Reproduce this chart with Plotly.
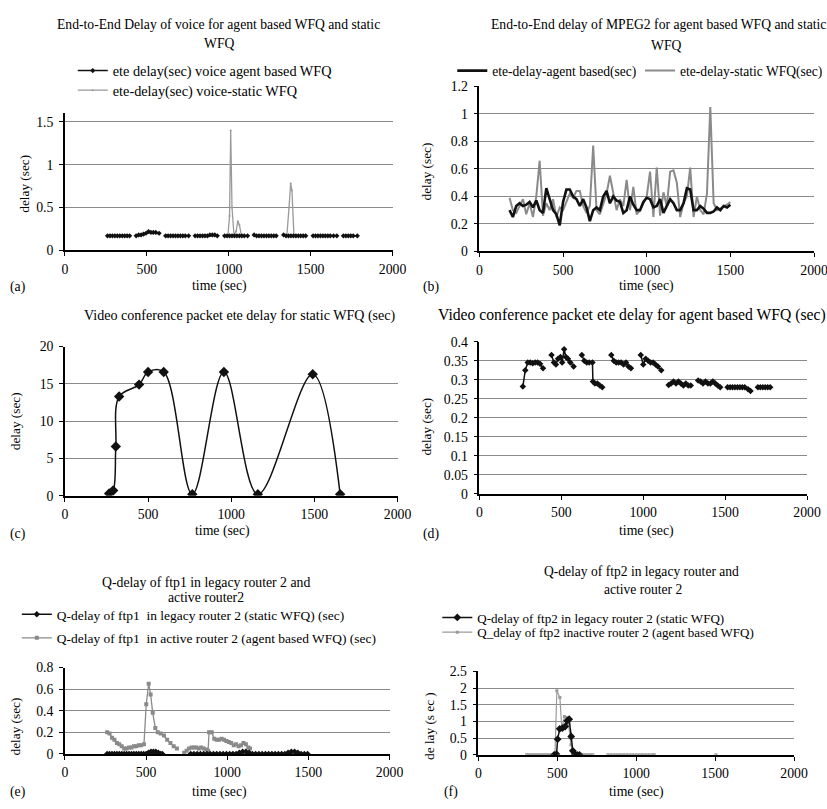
import plotly.graph_objects as go

# The capture is ~843px wide and is resized to 827px: lay the figure out on 843px
# and remove the body margin.
TARGET_W, TARGET_H = 827, 809
W, H = 843, 809
SX = W / TARGET_W
FONT = "Liberation Serif"
FS = 1.02  # compensate for horizontal squeeze


def fx(px):
    return px / TARGET_W


def fy(py):
    return 1 - py / TARGET_H


# ---------------- DATA ----------------
# (a) voice end-to-end delay
a_time_agent = [260, 275, 290, 305, 320, 335, 350, 365, 380, 395, None,
                435, 450, 465, 480, 495, 510, 525, 540, 555, 575, None,
                615, 630, 645, 660, 675, 690, 705, 720, 735, 755, None,
                795, 810, 825, 840, 855, 870, 885, 900, 915, 930, None,
                975, 990, 1005, 1020, 1035, 1050, 1065, 1080, 1095, 1115, None,
                1155, 1170, 1185, 1200, 1215, 1230, 1245, 1260, 1275, 1290, None,
                1335, 1350, 1365, 1380, 1395, 1410, 1425, 1440, 1455, 1470, None,
                1515, 1530, 1545, 1560, 1575, 1590, 1605, 1620, 1640, 1660, None,
                1700, 1715, 1730, 1745, 1760, 1785]
a_delay_agent = [0.17, 0.17, 0.17, 0.17, 0.17, 0.17, 0.17, 0.17, 0.17, 0.17, None,
                 0.17, 0.18, 0.18, 0.19, 0.20, 0.22, 0.21, 0.21, 0.21, 0.20, None,
                 0.17, 0.17, 0.17, 0.17, 0.17, 0.17, 0.17, 0.17, 0.17, 0.17, None,
                 0.17, 0.17, 0.17, 0.17, 0.17, 0.17, 0.18, 0.18, 0.18, 0.17, None,
                 0.17, 0.17, 0.17, 0.17, 0.17, 0.17, 0.17, 0.17, 0.17, 0.17, None,
                 0.18, 0.17, 0.17, 0.17, 0.17, 0.17, 0.17, 0.17, 0.17, 0.17, None,
                 0.18, 0.17, 0.17, 0.17, 0.17, 0.17, 0.17, 0.17, 0.17, 0.17, None,
                 0.17, 0.17, 0.17, 0.17, 0.17, 0.17, 0.17, 0.17, 0.17, 0.17, None,
                 0.17, 0.17, 0.17, 0.17, 0.17, 0.17]
a_time_static = [260, 280, 300, 320, 340, 360, 380, 395, None,
                 435, 455, 475, 495, 515, 535, 555, 575, None,
                 615, 635, 655, 675, 695, 715, 735, 755, None,
                 795, 815, 835, 855, 875, 895, 915, 930, None,
                 975, 995, 1005, 1012, 1020, 1032, 1045, 1055, 1065, 1078, 1095, 1115, None,
                 1155, 1175, 1195, 1215, 1235, 1255, 1275, 1290, None,
                 1335, 1355, 1368, 1378, 1386, 1398, 1415, 1435, 1455, 1470, None,
                 1515, 1535, 1555, 1575, 1595, 1615, 1635, 1660, None,
                 1700, 1720, 1740, 1760, 1785]
a_delay_static = [0.17, 0.17, 0.17, 0.17, 0.17, 0.17, 0.17, 0.17, None,
                  0.17, 0.17, 0.18, 0.19, 0.21, 0.20, 0.20, 0.19, None,
                  0.17, 0.17, 0.17, 0.17, 0.17, 0.17, 0.17, 0.17, None,
                  0.17, 0.17, 0.17, 0.17, 0.17, 0.17, 0.17, 0.17, None,
                  0.17, 0.17, 0.40, 1.40, 0.50, 0.18, 0.22, 0.34, 0.30, 0.17, 0.17, 0.17, None,
                  0.17, 0.17, 0.17, 0.17, 0.17, 0.17, 0.17, 0.17, None,
                  0.17, 0.17, 0.50, 0.78, 0.70, 0.18, 0.17, 0.17, 0.17, 0.17, None,
                  0.17, 0.17, 0.17, 0.17, 0.17, 0.17, 0.17, 0.17, None,
                  0.17, 0.17, 0.17, 0.17, 0.17]

# (b) MPEG2 end-to-end delay
b_time = [180, 200, 220, 240, 260, 280, 300, 320, 340, 360, 380, 400, 420, 440, 460,
          480, 500, 520, 540, 560, 580, 600, 620, 640, 660, 680, 700, 720, 740, 760,
          780, 800, 820, 840, 860, 880, 900, 920, 940, 960, 980, 1000, 1020, 1040,
          1060, 1080, 1100, 1120, 1140, 1160, 1180, 1200, 1220, 1240, 1260, 1280,
          1300, 1320, 1340, 1360, 1380, 1400, 1420, 1440, 1460, 1480, 1500]
b_delay_agent = [0.30, 0.25, 0.33, 0.35, 0.33, 0.34, 0.36, 0.32, 0.37, 0.30, 0.28, 0.46,
                 0.38, 0.30, 0.27, 0.19, 0.36, 0.45, 0.45, 0.40, 0.38, 0.33, 0.38, 0.32,
                 0.22, 0.30, 0.32, 0.30, 0.40, 0.44, 0.35, 0.40, 0.37, 0.36, 0.28, 0.30,
                 0.40, 0.34, 0.30, 0.30, 0.36, 0.39, 0.38, 0.32, 0.33, 0.38, 0.28, 0.33,
                 0.38, 0.35, 0.30, 0.30, 0.35, 0.46, 0.45, 0.30, 0.30, 0.33, 0.31, 0.28,
                 0.28, 0.29, 0.32, 0.30, 0.33, 0.32, 0.34]
b_delay_static = [0.39, 0.30, 0.28, 0.33, 0.38, 0.27, 0.35, 0.25, 0.40, 0.66, 0.26, 0.35,
                  0.30, 0.38, 0.25, 0.32, 0.30, 0.36, 0.42, 0.39, 0.44, 0.44, 0.33, 0.28,
                  0.33, 0.77, 0.30, 0.27, 0.35, 0.42, 0.55, 0.42, 0.30, 0.38, 0.33, 0.52,
                  0.30, 0.47, 0.27, 0.30, 0.35, 0.40, 0.58, 0.25, 0.61, 0.26, 0.43, 0.33,
                  0.58, 0.59, 0.50, 0.25, 0.35, 0.40, 0.61, 0.25, 0.40, 0.30, 0.27, 0.42,
                  1.05, 0.35, 0.30, 0.31, 0.33, 0.34, 0.36]

# (c) video conference, static WFQ
c_time = [266, 290, 306, 326, 446, 500, 594, 766, 956, 1160, 1490, 1655]
c_delay = [0.3, 0.7, 6.6, 13.3, 14.9, 16.6, 16.6, 0.2, 16.6, 0.2, 16.3, 0.2]

# (d) video conference, agent based WFQ
d_time = [265, 280, 295, 310, 325, 340, 355, 370, 388, None,
          440, 455, 467, 480, 495, 505, 517, 528, 540, 555, 575, None,
          625, 640, 655, 670, 690, 693, 705, 720, 735, 750, None,
          805, 820, 835, 850, 865, 880, 895, 910, 925, None,
          985, 1000, 1015, 1030, 1045, 1060, 1075, 1090, 1110, None,
          1155, 1170, 1185, 1200, 1215, 1230, 1245, 1260, 1275, 1290, None,
          1335, 1350, 1365, 1380, 1395, 1410, 1425, 1440, 1455, 1470, None,
          1515, 1530, 1545, 1560, 1575, 1590, 1605, 1620, 1640, 1655, None,
          1700, 1715, 1730, 1745, 1760, 1775]
d_delay = [0.282, 0.325, 0.345, 0.345, 0.343, 0.345, 0.345, 0.342, 0.330, None,
           0.365, 0.345, 0.340, 0.355, 0.360, 0.345, 0.380, 0.360, 0.355, 0.345, 0.335, None,
           0.365, 0.350, 0.345, 0.345, 0.345, 0.295, 0.290, 0.290, 0.285, 0.280, None,
           0.365, 0.350, 0.345, 0.345, 0.345, 0.340, 0.345, 0.335, 0.330, None,
           0.365, 0.340, 0.355, 0.350, 0.345, 0.345, 0.340, 0.335, 0.325, None,
           0.286, 0.290, 0.295, 0.290, 0.295, 0.290, 0.285, 0.290, 0.285, 0.285, None,
           0.298, 0.295, 0.290, 0.295, 0.290, 0.290, 0.295, 0.290, 0.285, 0.280, None,
           0.280, 0.280, 0.280, 0.280, 0.280, 0.280, 0.280, 0.280, 0.275, 0.270, None,
           0.280, 0.280, 0.280, 0.280, 0.280, 0.280]

# (e) Q-delay of ftp1
e_time_legacy = [260, 275, 290, 305, 320, 335, 350, 365, 380, 395, 410, 425, 440, 455,
                 470, 485, 500, 515, 530, 545, 560, 575, 590, 600, None,
                 775, 795, 815, 835, 855, 875, 895, 915, 935, 955, 975, 995, 1015,
                 1035, 1055, 1075, 1095, 1115, 1135, 1155, 1175, 1195, 1215, 1235,
                 1255, 1275, 1295, 1315, 1335, 1355, 1375, 1395, 1415, 1435, 1455,
                 1475, 1495]
e_delay_legacy = [0, 0, 0, 0, 0, 0, 0, 0, 0, 0, 0, 0, 0, 0,
                  0, 0, 0, 0.01, 0.02, 0.02, 0.02, 0.01, 0, 0, None,
                  0, 0, 0, 0, 0, 0, 0, 0, 0, 0, 0, 0, 0,
                  0, 0, 0.01, 0.02, 0.02, 0.01, 0, 0, 0, 0, 0,
                  0, 0, 0, 0, 0, 0, 0.01, 0.02, 0.02, 0.01, 0,
                  0, 0]
e_time_active = [260, 275, 290, 305, 320, 335, 350, 365, 380, 395, 410, 425, 440, 455,
                 470, 487, 501, 516, 528, 541, 557, 572, 590, 610, 630, 650, 670, 690, None,
                 735, 750, 765, 780, 795, 810, 825, 840, 855, 870, 882, 888, 905, 920,
                 935, 950, 965, 980, 995, 1010, 1025, 1040, 1055, 1070, 1085, 1100,
                 1115, 1130, 1140]
e_delay_active = [0.20, 0.19, 0.15, 0.13, 0.10, 0.09, 0.07, 0.05, 0.05, 0.06, 0.06, 0.07,
                  0.07, 0.08, 0.08, 0.09, 0.46, 0.65, 0.55, 0.38, 0.24, 0.20, 0.19, 0.17,
                  0.13, 0.10, 0.07, 0.05, None,
                  0.01, 0.03, 0.05, 0.06, 0.06, 0.06, 0.05, 0.06, 0.05, 0.04, 0.03, 0.20,
                  0.20, 0.14, 0.13, 0.13, 0.14, 0.13, 0.12, 0.11, 0.10, 0.08, 0.09, 0.07,
                  0.08, 0.10, 0.09, 0.06, 0.05]

# (f) Q-delay of ftp2
f_time_legacy = [480, 495, 502, 515, 532, 550, 562, 575, 588, 598, 610, 625, 640]
f_delay_legacy = [0, 0.02, 0.47, 0.78, 0.80, 0.85, 1.02, 1.07, 0.55, 0.12, 0.02, 0, 0]
f_time_active = [305, 320, 335, 350, 365, 380, 395, 410, 425, 440, 455, 470, 485, 497,
                 516, 529, 545, 559, 572, 586, 601, 618, 635, 650, 665, 680, 695, 710,
                 725, None,
                 820, 840, 860, 880, 900, 920, 940, 960, 980, 1000, 1020, 1040, 1060,
                 1080, 1100, 1115, None, 1505]
f_delay_active = [0, 0, 0, 0, 0, 0, 0, 0, 0, 0, 0, 0, 0, 1.92,
                  1.72, 0.78, 1.15, 1.12, 0.90, 0.30, 0.10, 0.02, 0, 0, 0, 0, 0, 0,
                  0, None,
                  0, 0, 0, 0, 0, 0, 0, 0, 0, 0, 0, 0, 0,
                  0, 0, 0, None, 0]

# tick values
x_ticks = [0, 500, 1000, 1500, 2000]
a_yticks = [0, 0.5, 1, 1.5]
b_yticks = [0, 0.2, 0.4, 0.6, 0.8, 1, 1.2]
c_yticks = [0, 5, 10, 15, 20]
d_yticks = [0, 0.05, 0.1, 0.15, 0.2, 0.25, 0.3, 0.35, 0.4]
e_yticks = [0, 0.2, 0.4, 0.6, 0.8]
f_yticks = [0, 0.5, 1, 1.5, 2, 2.5]

# ---------------- FIGURE ----------------
fig = go.Figure()

BLACK = "#111111"

# panel (a)
fig.add_trace(go.Scatter(x=a_time_static, y=a_delay_static, mode="lines+markers",
                         name="ete-delay(sec) voice-static WFQ",
                         line=dict(color="#9a9a9a", width=1.3),
                         marker=dict(size=2, color="#9a9a9a"),
                         xaxis="x", yaxis="y", legend="legend2"))
fig.add_trace(go.Scatter(x=a_time_agent, y=a_delay_agent, mode="lines+markers",
                         name="ete delay(sec) voice agent based WFQ",
                         line=dict(color=BLACK, width=1.5),
                         marker=dict(symbol="diamond", size=4, color=BLACK),
                         xaxis="x", yaxis="y", legend="legend"))
# panel (b)
fig.add_trace(go.Scatter(x=b_time, y=b_delay_static, mode="lines",
                         name="ete-delay-static WFQ(sec)",
                         line=dict(color="#8a8a8a", width=2),
                         xaxis="x2", yaxis="y2", legend="legend4"))
fig.add_trace(go.Scatter(x=b_time, y=b_delay_agent, mode="lines",
                         name="ete-delay-agent based(sec)",
                         line=dict(color=BLACK, width=2.6),
                         xaxis="x2", yaxis="y2", legend="legend3"))
# panel (c)
fig.add_trace(go.Scatter(x=c_time, y=c_delay, mode="lines+markers",
                         line=dict(color=BLACK, width=1.5, shape="spline", smoothing=1.0),
                         marker=dict(symbol="diamond", size=8, color=BLACK),
                         showlegend=False, xaxis="x3", yaxis="y3"))
# panel (d)
fig.add_trace(go.Scatter(x=d_time, y=d_delay, mode="lines+markers",
                         line=dict(color=BLACK, width=1.5),
                         marker=dict(symbol="diamond", size=5, color=BLACK),
                         showlegend=False, xaxis="x4", yaxis="y4"))
# panel (e)
fig.add_trace(go.Scatter(x=e_time_active, y=e_delay_active, mode="lines+markers",
                         name="Q-delay of ftp1  in active router 2 (agent based WFQ) (sec)",
                         line=dict(color="#8a8a8a", width=1.3),
                         marker=dict(symbol="square", size=4, color="#8a8a8a"),
                         xaxis="x5", yaxis="y5", legend="legend6"))
fig.add_trace(go.Scatter(x=e_time_legacy, y=e_delay_legacy, mode="lines+markers",
                         name="Q-delay of ftp1  in legacy router 2 (static WFQ) (sec)",
                         line=dict(color=BLACK, width=1.5),
                         marker=dict(symbol="diamond", size=5, color=BLACK),
                         xaxis="x5", yaxis="y5", legend="legend5"))
# panel (f)
fig.add_trace(go.Scatter(x=f_time_active, y=f_delay_active, mode="lines+markers",
                         name="Q_delay of ftp2 inactive router 2 (agent based WFQ)",
                         line=dict(color="#9a9a9a", width=1.2),
                         marker=dict(symbol="square", size=3, color="#9a9a9a"),
                         xaxis="x6", yaxis="y6", legend="legend8"))
fig.add_trace(go.Scatter(x=f_time_legacy, y=f_delay_legacy, mode="lines+markers",
                         name="Q-delay of ftp2 in legacy router 2 (static WFQ)",
                         line=dict(color=BLACK, width=1.5),
                         marker=dict(symbol="diamond", size=6, color=BLACK),
                         xaxis="x6", yaxis="y6", legend="legend7"))

tickfont = dict(family=FONT, size=13.5 * FS, color="black")


def xax(x0, x1, anchor):
    return dict(domain=[fx(x0), fx(x1)], range=[0, 2000], tickvals=x_ticks,
                showgrid=False, zeroline=False, showline=True, linecolor="black",
                linewidth=1.5, ticks="outside", ticklen=4, tickcolor="black",
                tickfont=tickfont, anchor=anchor, fixedrange=True,
                ticklabelstandoff=1)


def yax(top_py, bot_py, rng, ticks, grid, anchor):
    return dict(domain=[fy(bot_py), fy(top_py)], range=rng, tickvals=ticks,
                showgrid=False, zeroline=False, showline=True, linecolor="black",
                linewidth=1.5, ticks="outside", ticklen=4, tickcolor="black",
                tickfont=tickfont, anchor=anchor, fixedrange=True,
                minor=dict(tickvals=grid, showgrid=True, gridcolor="#8a8a8a",
                           gridwidth=1, ticks=""),
                ticklabelstandoff=3)


# axis pixel calibration (from the reference)
fig.update_layout(
    xaxis=xax(62, 390, "y"),
    yaxis=yax(248 - 1.6 * (131 / 1.5), 248, [0, 1.6], a_yticks, a_yticks[1:], "x"),
    xaxis2=xax(477, 812, "y2"),
    yaxis2=yax(81, 249, [0, 1.2], b_yticks, b_yticks[1:-1], "x2"),
    xaxis3=xax(62, 395, "y3"),
    yaxis3=yax(346, 498, [0, 20], c_yticks, c_yticks[1:-1], "x3"),
    xaxis4=xax(477, 805, "y4"),
    yaxis4=yax(341, 496, [0, 0.4], d_yticks, d_yticks[1:-1], "x4"),
    xaxis5=xax(62, 387, "y5"),
    yaxis5=yax(673, 761, [0, 0.8], e_yticks, e_yticks[1:-1], "x5"),
    xaxis6=xax(476, 792, "y6"),
    yaxis6=yax(677, 762, [0, 2.5], f_yticks, f_yticks[1:-1], "x6"),
)


def leg(text_px, row_py, size=13):
    return dict(x=(text_px * SX - 44) / W, y=fy(row_py), xanchor="left", yanchor="middle",
                orientation="v", bgcolor="rgba(0,0,0,0)", borderwidth=0,
                font=dict(family=FONT, size=size * FS, color="black"),
                itemwidth=30, itemclick=False, itemdoubleclick=False)


fig.update_layout(
    legend=leg(113, 65, 14),
    legend2=leg(113, 85, 14),
    legend3=leg(493, 65, 13.3),
    legend4=leg(681, 65, 13.3),
    legend5=leg(57, 619, 13.2),
    legend6=leg(57, 643, 13.2),
    legend7=leg(478, 622, 12.8),
    legend8=leg(478, 637, 12.8),
)

annots = []


def txt(s, px, py, size=13, angle=0, xanchor="center"):
    annots.append(dict(text=s, x=fx(px), y=fy(py), xref="paper", yref="paper",
                       showarrow=False, xanchor=xanchor, yanchor="middle",
                       textangle=angle,
                       font=dict(family=FONT, size=size * FS, color="black")))


# titles
txt("End-to-End Delay of voice for agent based WFQ and static", 216, 18, 13.4)
txt("WFQ", 216, 37, 13.4)
txt("End-to-End delay of MPEG2 for agent based WFQ and static", 656, 18, 13.4)
txt("WFQ", 664, 39, 13.4)
txt("Video conference packet ete delay for static WFQ (sec)", 237, 314, 13.8)
txt("Video conference packet ete delay for agent based WFQ (sec)", 630, 314, 15.4)
txt("Q-delay of ftp1 in legacy router 2 and", 203, 586, 13.5)
txt("active router2", 203, 602, 13.5)
txt("Q-delay of ftp2 in legacy router and", 639, 575, 13.3)
txt("active router 2", 641, 593, 13.3)
# axis titles
for (px, py) in [(217, 284), (644, 284), (220, 534), (644, 534), (217, 800), (634, 800)]:
    txt("time (sec)", px, py, 13.5)
for (px, py, s) in [(22, 180, "delay (sec)"), (424, 167, "delay (sec)"),
                    (12, 422, "delay (sec)"), (424, 427, "delay (sec)"),
                    (12, 733, "delay (sec)"), (427, 732, "de lay (s ec )")]:
    txt(s, px, py, 13, angle=-90)
# panel labels
for (px, py, s) in [(5, 285, "(a)"), (419, 285, "(b)"), (5, 537, "(c)"),
                    (419, 537, "(d)"), (5, 800, "(e)"), (440, 800, "(f)")]:
    txt(s, px, py, 13.5, xanchor="left")

fig.update_layout(annotations=annots, width=W, height=H,
                  margin=dict(l=0, r=0, t=0, b=0),
                  paper_bgcolor="white", plot_bgcolor="white",
                  showlegend=True)

fig.write_html("out.html", config={"displayModeBar": False},
               post_script="document.body.style.margin='0';")
